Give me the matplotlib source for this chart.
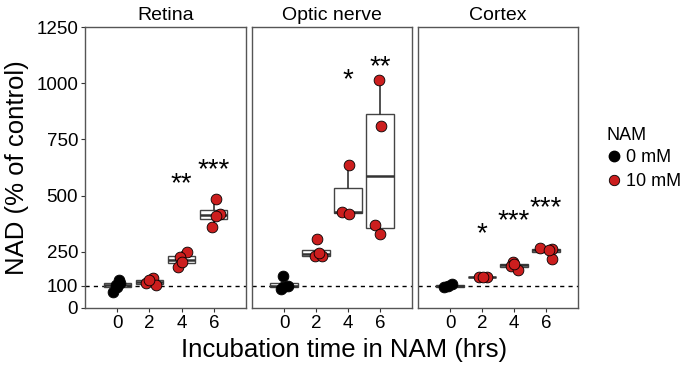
import matplotlib.pyplot as plt
import numpy as np

plt.rcParams['font.family'] = ['Liberation Sans', 'DejaVu Sans']

panels = ['Retina', 'Optic nerve', 'Cortex']
hours = ['0', '2', '4', '6']

# NAD (% of control) per panel, per time point
retina = [[124, 112, 103, 95, 73], [110, 132, 102, 124], [248, 225, 184, 206], [485, 418, 411, 359]]
optic = [[142, 100, 95, 83], [307, 233, 230, 243], [636, 428, 417], [1014, 810, 368, 328]]
cortex = [[92, 105, 99], [140, 136, 139], [203, 188, 169, 195], [266, 261, 217, 258]]

# horizontal jitter of the points (same shape as the data)
retina_jit = [[0.05, 0.1, -0.05, 0.0, -0.12], [-0.1, 0.1, 0.19, 0.0], [0.18, -0.05, -0.1, 0.0], [0.06, 0.2, 0.06, -0.05]]
optic_jit = [[-0.03, 0.12, -0.03, -0.08], [0.02, -0.02, 0.2, 0.1], [0.03, -0.18, 0.03], [-0.03, 0.02, -0.15, 0.0]]
cortex_jit = [[-0.2, 0.05, -0.05], [-0.1, 0.15, 0.03], [-0.03, -0.08, 0.12, 0.0], [-0.18, 0.18, 0.18, 0.1]]

# significance stars: (time index, label, y value)
retina_sig = [(2, '**', 569), (3, '***', 628)]
optic_sig = [(2, '*', 1029), (3, '**', 1088)]
cortex_sig = [(1, '*', 347), (2, '***', 402), (3, '***', 461)]

data = [retina, optic, cortex]
jitter = [retina_jit, optic_jit, cortex_jit]
sigs = [retina_sig, optic_sig, cortex_sig]

red = '#CC1E1E'
fig = plt.figure(figsize=(6.88, 3.66), dpi=100)

lefts = [85, 252, 418]
widths = [161, 160, 160]
axes = []
for k in range(3):
    ax = fig.add_axes([lefts[k] / 688, 58 / 366, widths[k] / 688, 281 / 366])
    axes.append(ax)
    vals = data[k]
    ax.axhline(100, color='black', ls=(0, (3, 3)), lw=1, zorder=1)
    ax.boxplot(vals, positions=range(4), widths=0.85, whis=1.5, showfliers=False,
               patch_artist=True, manage_ticks=False,
               boxprops=dict(facecolor='none', edgecolor='#444444', lw=1),
               whiskerprops=dict(color='#333333', lw=1.2),
               capprops=dict(lw=0),
               medianprops=dict(color='#333333', lw=1.8), zorder=2)
    for i in range(4):
        x = i + np.array(jitter[k][i])
        if i == 0:
            ax.scatter(x, vals[i], s=60, color='black', edgecolor='black', lw=0.6, zorder=3)
        else:
            ax.scatter(x, vals[i], s=60, color=red, edgecolor='black', lw=0.6, zorder=3)
    for i, lab, y in sigs[k]:
        ax.annotate(lab, (i, y), xytext=(0, -7.8), textcoords='offset points',
                    ha='center', va='baseline', fontsize=20)
    ax.set_xlim(-1, 4)
    ax.set_ylim(0, 1250)
    ax.set_xticks(range(4))
    ax.set_xticklabels(hours, fontsize=13.5)
    ax.set_title(panels[k], fontsize=14, pad=5)
    for s in ax.spines.values():
        s.set_color('#555555')
        s.set_linewidth(1)
    ax.tick_params(axis='x', length=3, width=0.8, color='#333333', pad=2)
    if k == 0:
        ax.set_yticks([0, 100, 250, 500, 750, 1000, 1250])
        ax.tick_params(axis='y', labelsize=13.5, length=3, width=0.8, color='#333333', pad=2)
        ax.set_ylabel('NAD (% of control)', fontsize=18.5, labelpad=5)
    else:
        ax.set_yticks([])

fig.text(0.5, 0.043, 'Incubation time in NAM (hrs)', ha='center', va='center', fontsize=18.5)

handles = [plt.Line2D([], [], marker='o', ls='', color='black', markersize=7.5),
           plt.Line2D([], [], marker='o', ls='', markerfacecolor=red, markeredgecolor='black',
                      markeredgewidth=0.6, markersize=7.5)]
fig.legend(handles, ['0 mM', '10 mM'], loc='center left',
           bbox_to_anchor=(592 / 688, 1 - 169.5 / 366), frameon=False, fontsize=13,
           handlelength=0.6, handletextpad=0.4, labelspacing=0.4)
fig.text(607 / 688, 1 - 136 / 366, 'NAM', ha='left', va='center', fontsize=13)

fig.savefig('out.png', dpi=100)
